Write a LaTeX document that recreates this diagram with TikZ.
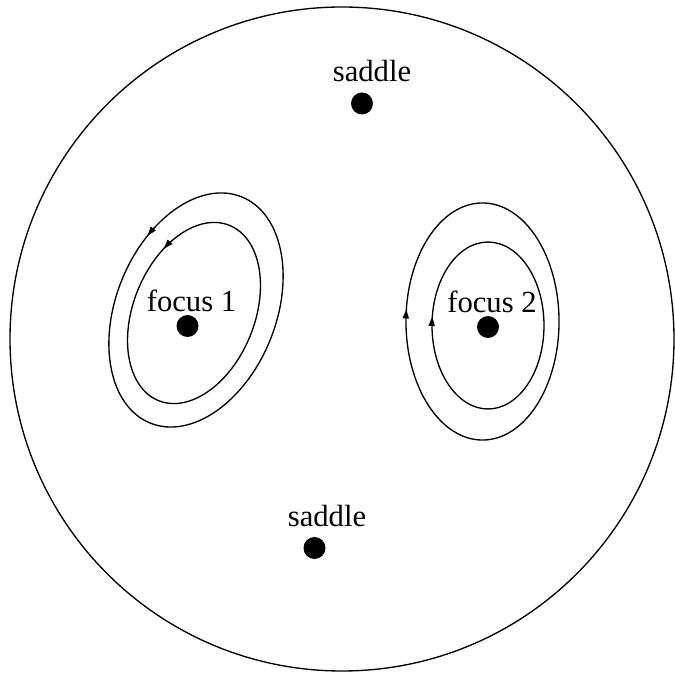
\documentclass[tikz,border=0pt]{standalone}
\usepackage{fontspec}
\setmainfont{Liberation Serif}
\usetikzlibrary{arrows.meta,decorations.markings}
\tikzset{
  orbit/.style={line width=1pt},
  fwdarrow/.style={postaction={decorate},decoration={markings,
     mark=at position #1 with {\arrow{Triangle[length=7pt,width=4.6pt]}}}},
  revarrow/.style={postaction={decorate},decoration={markings,
     mark=at position #1 with {\arrowreversed{Triangle[length=7pt,width=4.6pt]}}}},
  dot/.style={circle,fill=black,inner sep=0pt,minimum size=16.5pt},
  lbl/.style={inner sep=0pt,anchor=base,font=\fontsize{23}{27}\selectfont}
}
\begin{document}
\begin{tikzpicture}[x=0.75pt,y=0.75pt]
\useasboundingbox (0,0) rectangle (675,676);
% outer disc
\draw[orbit] (342,337) circle [radius=249pt];
% focus 1 orbits (tilted)
\draw[orbit,fwdarrow=0.42,rotate around={-22:(196,366)}] (196,366) ellipse [x radius=60pt,y radius=91.5pt];
\draw[orbit,fwdarrow=0.40,rotate around={-22:(194,363)}] (194,363) ellipse [x radius=45.5pt,y radius=70.9pt];
% focus 2 orbits
\draw[orbit,revarrow=0.48] (482.5,354.5) ellipse [x radius=57.4pt,y radius=88.9pt];
\draw[orbit,revarrow=0.48] (488,350.5) ellipse [x radius=42pt,y radius=62.6pt];
% critical points
\node[dot] (s1) at (362,572.5) {};
\node[lbl] (s1l) at (372,594) {saddle};
\node[dot] (s2) at (314.5,128) {};
\node[lbl] (s2l) at (327,149) {saddle};
\node[dot] (f1) at (187.5,350) {};
\node[lbl] (f1l) at (191.5,364) {focus 1};
\node[dot] (f2) at (488,349) {};
\node[lbl] (f2l) at (492,363) {focus 2};
\end{tikzpicture}
\end{document}
